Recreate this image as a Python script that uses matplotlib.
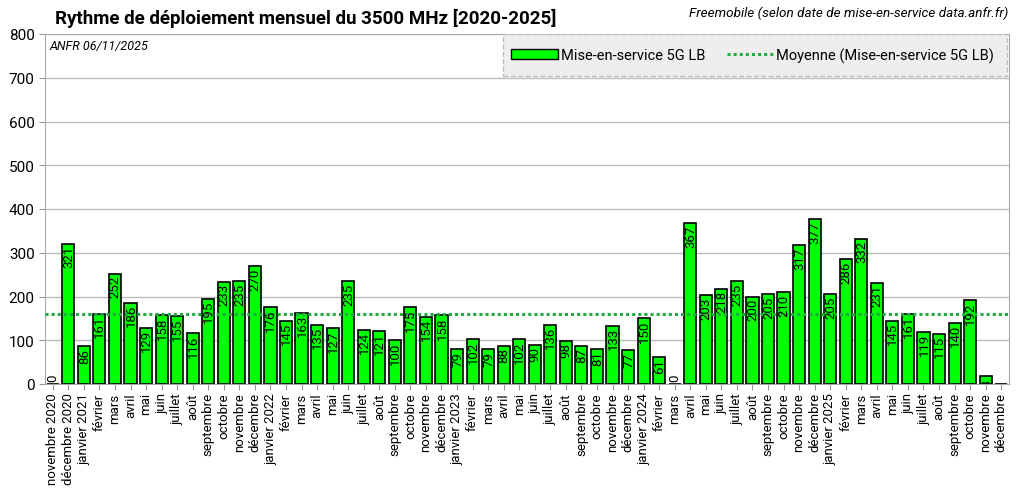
import matplotlib
matplotlib.use("Agg")
import matplotlib.pyplot as plt
from matplotlib.patches import Rectangle
from matplotlib.lines import Line2D
import numpy as np

plt.rcParams['font.family'] = ['Roboto', 'DejaVu Sans']

# Données mensuelles (nov 2020 -> déc 2025)
mois = ['novembre 2020', 'décembre 2020',
        'janvier 2021', 'février', 'mars', 'avril', 'mai', 'juin', 'juillet', 'août',
        'septembre', 'octobre', 'novembre', 'décembre',
        'janvier 2022', 'février', 'mars', 'avril', 'mai', 'juin', 'juillet', 'août',
        'septembre', 'octobre', 'novembre', 'décembre',
        'janvier 2023', 'février', 'mars', 'avril', 'mai', 'juin', 'juillet', 'août',
        'septembre', 'octobre', 'novembre', 'décembre',
        'janvier 2024', 'février', 'mars', 'avril', 'mai', 'juin', 'juillet', 'août',
        'septembre', 'octobre', 'novembre', 'décembre',
        'janvier 2025', 'février', 'mars', 'avril', 'mai', 'juin', 'juillet', 'août',
        'septembre', 'octobre', 'novembre', 'décembre']

v2020 = [0, 321]
v2021 = [86, 161, 252, 186, 129, 158, 155, 116, 195, 233, 235, 270]
v2022 = [176, 145, 163, 135, 127, 235, 124, 121, 100, 175, 154, 158]
v2023 = [79, 102, 79, 88, 102, 90, 136, 98, 87, 81, 133, 77]
v2024 = [150, 61, 0, 367, 203, 218, 235, 200, 205, 210, 317, 377]
v2025 = [205, 286, 332, 231, 145, 161, 119, 115, 140, 192, 18, 1]

valeurs = v2020 + v2021 + v2022 + v2023 + v2024 + v2025
moyenne = np.mean(valeurs)

fig = plt.figure(figsize=(10.23, 4.89), dpi=100)
ax = fig.add_axes([45 / 1023, 1 - 385 / 489, 964 / 1023, 350 / 489])

x = np.arange(len(valeurs))
bars = ax.bar(x, valeurs, width=0.78, color='#00ff00', edgecolor='black', linewidth=1.2, zorder=3)
ax.axhline(moyenne, color='#22aa44', linestyle=(0, (1, 1)), linewidth=2.2, zorder=4)

for xi, v in zip(x, valeurs):
    if v == 0:
        ax.text(xi + 0.03, 6, str(v), rotation=90, ha='center', va='bottom', fontsize=9.5, zorder=5)
    else:
        ax.text(xi + 0.03, v - 3, str(v), rotation=90, ha='center', va='top', fontsize=9.5,
                zorder=5, clip_on=True)

ax.set_xlim(-0.5, len(valeurs) - 0.5)
ax.set_ylim(0, 800)
ax.set_yticks(range(0, 801, 100))
ax.set_xticks(x)
ax.set_xticklabels(mois, rotation=90, fontsize=9.5)
ax.tick_params(axis='y', labelsize=11, length=4, color='#999999')
ax.tick_params(axis='x', length=4, color='#999999', pad=2)
ax.grid(axis='y', color='#bbbbbb', linewidth=1, zorder=0)
for s in ['left', 'bottom', 'right', 'top']:
    ax.spines[s].set_color('#aaaaaa')

ax.text(0.005, 0.985, 'ANFR 06/11/2025', transform=ax.transAxes, fontsize=9,
        style='italic', ha='left', va='top')

# Cadre de la légende
ax.add_patch(Rectangle((0.4746, 0.88), 0.523, 0.12, transform=ax.transAxes,
                       facecolor='#eeeeee', edgecolor='#bbbbbb', linestyle='--',
                       linewidth=1, zorder=6))
handles = [Rectangle((0, 0), 1, 1, facecolor='#00ff00', edgecolor='black'),
           Line2D([], [], color='#22aa44', linestyle=(0, (1, 1)), linewidth=2.2)]
leg = ax.legend(handles, ['Mise-en-service 5G LB', 'Moyenne (Mise-en-service 5G LB)'],
                loc='center', bbox_to_anchor=(0.734, 0.94), ncol=2, frameon=False,
                fontsize=10.5, handlelength=3.2, handletextpad=0.2, columnspacing=1.5)
leg.set_zorder(7)

fig.text(55 / 1023, 1 - 18 / 489, 'Rythme de déploiement mensuel du 3500 MHz [2020-2025]',
         fontsize=13.5, fontweight='bold', ha='left', va='center')
fig.text(1008 / 1023, 1 - 13 / 489, 'Freemobile (selon date de mise-en-service data.anfr.fr)',
         fontsize=9.7, style='italic', ha='right', va='center')

fig.savefig('out.png', dpi=100)
